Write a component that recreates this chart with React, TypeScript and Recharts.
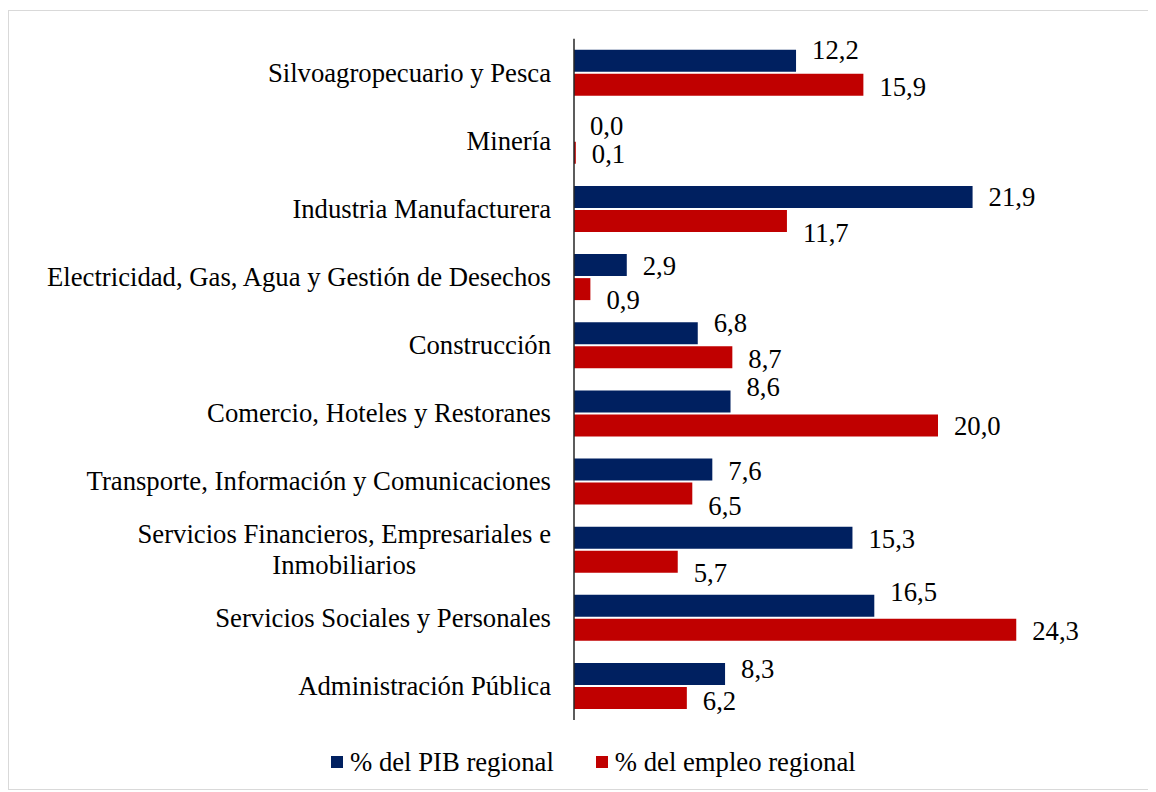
import { Bar, BarChart, LabelList, XAxis, YAxis } from 'recharts'

const sectors = [
  'Silvoagropecuario y Pesca',
  'Minería',
  'Industria Manufacturera',
  'Electricidad, Gas, Agua y Gestión de Desechos',
  'Construcción',
  'Comercio, Hoteles y Restoranes',
  'Transporte, Información y Comunicaciones',
  'Servicios Financieros, Empresariales e Inmobiliarios',
  'Servicios Sociales y Personales',
  'Administración Pública',
]
const pibShare = [12.2, 0.0, 21.9, 2.9, 6.8, 8.6, 7.6, 15.3, 16.5, 8.3]
const empleoShare = [15.9, 0.1, 11.7, 0.9, 8.7, 20.0, 6.5, 5.7, 24.3, 6.2]
const seriesNames = ['% del PIB regional', '% del empleo regional']

// hand-placed label nudges (vertical, px), as in the source
const pibLabelShift = [-11, -3, 0, 1, -10, -14, 2, 2, -14, -5]
const empleoLabelShift = [2, 1, 12, 11, 2, 1, 13, 12, 1, 3]

const NAVY = '#002060'
const RED = '#C00000'
const FONT = '"Liberation Serif", "Times New Roman", serif'
const FONT_SIZE = 26.7

const data = sectors.map((name, i) => ({ name, pib: pibShare[i], empleo: empleoShare[i] }))

const fmt = (v: number) => v.toFixed(1).replace('.', ',')

let measureCtx: CanvasRenderingContext2D | null = null
function textWidth(s: string) {
  if (!measureCtx) measureCtx = document.createElement('canvas').getContext('2d')
  if (!measureCtx) return s.length * FONT_SIZE * 0.45
  measureCtx.font = `${FONT_SIZE}px ${FONT}`
  return measureCtx.measureText(s).width
}

function wrap(label: string, maxChars = 45) {
  const lines: string[] = []
  let cur = ''
  for (const w of label.split(' ')) {
    const next = cur ? `${cur} ${w}` : w
    if (next.length > maxChars && cur) {
      lines.push(cur)
      cur = w
    } else cur = next
  }
  if (cur) lines.push(cur)
  return lines
}

function SectorTick(props: any) {
  const { x, y, payload } = props
  const lines = wrap(String(payload.value))
  const lh = 31
  const widest = Math.max(...lines.map(textWidth))
  const cx = x - widest / 2
  return (
    <g>
      {lines.map((ln, i) => (
        <text
          key={i}
          x={lines.length > 1 ? cx : x}
          y={y + (i - (lines.length - 1) / 2) * lh}
          dy="0.33em"
          textAnchor={lines.length > 1 ? 'middle' : 'end'}
          fontFamily={FONT}
          fontSize={FONT_SIZE}
          fill="#000"
        >
          {ln}
        </text>
      ))}
    </g>
  )
}

const makeLabel = (shifts: number[]) => (props: any) => {
  const { x, y, width, height, value, index } = props
  return (
    <text
      x={x + width + 16}
      y={y + height / 2 + (shifts[index] ?? 0)}
      dy="0.33em"
      textAnchor="start"
      fontFamily={FONT}
      fontSize={FONT_SIZE}
      fill="#000"
    >
      {fmt(Number(value))}
    </text>
  )
}

// keep zero-valued bars (invisible) so their value label is still drawn
const keepZero = (value: any) => (Number(value) === 0 ? 0.01 : 0)

export default function App() {
  return (
    <div
      style={{
        position: 'relative',
        marginTop: 2,
        width: 1142,
        height: 780,
        boxSizing: 'border-box',
        border: '1px solid #d9d9d9',
        background: '#fff',
      }}
    >
      <BarChart
        width={1140}
        height={778}
        data={data}
        layout="vertical"
        margin={{ top: 27.7, right: 29, bottom: 68.9, left: 0 }}
        barSize={22}
        barGap={2}
      >
        <XAxis type="number" domain={[0, 30]} hide />
        <YAxis
          type="category"
          dataKey="name"
          width={565}
          axisLine={{ stroke: '#262626', strokeWidth: 1.5 }}
          tickLine={false}
          tickSize={0}
          tickMargin={23}
          interval={0}
          tick={<SectorTick />}
        />
        <Bar dataKey="pib" name={seriesNames[0]} fill={NAVY} minPointSize={keepZero} isAnimationActive={false}>
          <LabelList dataKey="pib" content={makeLabel(pibLabelShift)} />
        </Bar>
        <Bar dataKey="empleo" name={seriesNames[1]} fill={RED} minPointSize={keepZero} isAnimationActive={false}>
          <LabelList dataKey="empleo" content={makeLabel(empleoLabelShift)} />
        </Bar>
      </BarChart>
      <div
        style={{
          position: 'absolute',
          left: 322,
          top: 733,
          display: 'flex',
          alignItems: 'center',
          fontFamily: FONT,
          fontSize: FONT_SIZE,
          color: '#000',
          lineHeight: '36px',
          whiteSpace: 'nowrap',
        }}
      >
        {seriesNames.map((n, i) => (
          <div key={n} style={{ display: 'flex', alignItems: 'center', marginRight: i === 0 ? 42 : 0 }}>
            <span style={{ width: 12, height: 12, background: i === 0 ? NAVY : RED, marginRight: 7 }} />
            <span>{n}</span>
          </div>
        ))}
      </div>
    </div>
  )
}
